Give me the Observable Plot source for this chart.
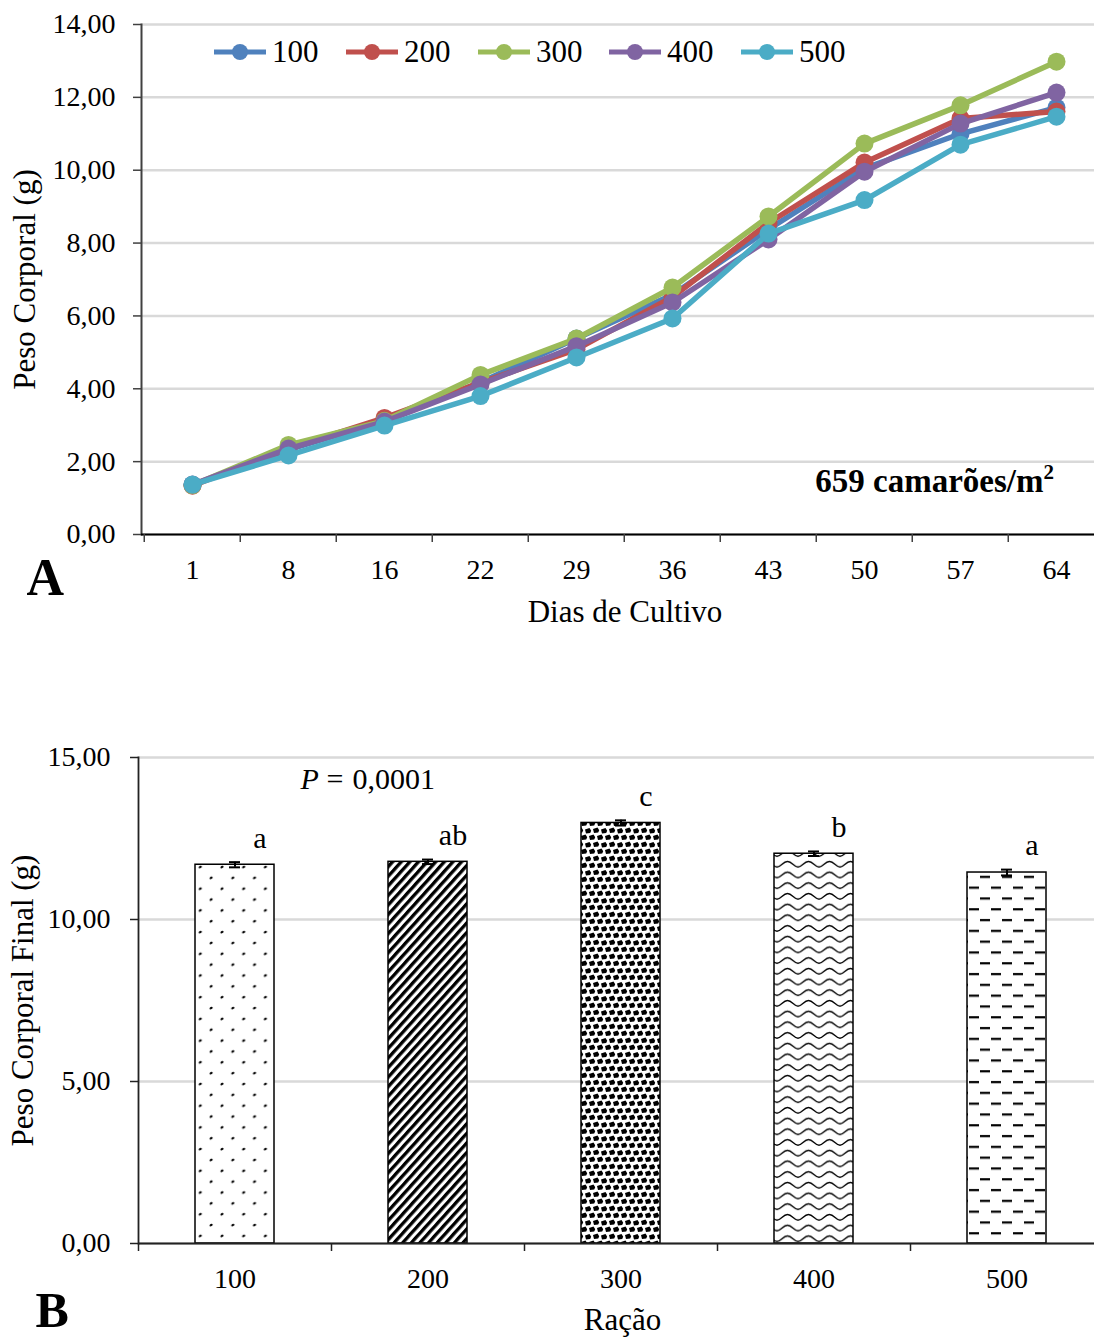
<!DOCTYPE html>
<html><head><meta charset="utf-8">
<script src="https://cdn.jsdelivr.net/npm/d3@7"></script>
<script src="https://cdn.jsdelivr.net/npm/@observablehq/plot@0.6"></script>
<style>
body{margin:0;background:#fff;}
#wrap{position:relative;width:1094px;height:1337px;overflow:hidden;font-family:"Liberation Serif","Times New Roman",serif;background:#fff;}
#wrap svg{display:block;}
.leg{position:absolute;top:34px;height:36px;display:flex;align-items:center;font-family:"Liberation Serif","Times New Roman",serif;font-size:31px;line-height:36px;color:#000;}
.leg svg{margin-right:6px;}
</style></head><body><div id="wrap"></div>
<script>
// ---------- DATA (Chart A) ----------
const days = ["1","8","16","22","29","36","43","50","57","64"];
const series = ["100","200","300","400","500"];
const colors = ["#4F81BD","#C0504D","#9BBB59","#8064A2","#4BACC6"];
const w100 = [1.36, 2.33, 3.12, 4.18, 5.38, 6.58, 8.38, 10.05, 11.00, 11.72];
const w200 = [1.34, 2.36, 3.20, 4.17, 5.08, 6.52, 8.55, 10.21, 11.42, 11.61];
const w300 = [1.35, 2.46, 3.12, 4.38, 5.38, 6.78, 8.73, 10.73, 11.78, 12.98];
const w400 = [1.37, 2.36, 3.10, 4.12, 5.17, 6.37, 8.10, 9.96, 11.28, 12.13];
const w500 = [1.37, 2.17, 2.99, 3.80, 4.86, 5.93, 8.26, 9.18, 10.70, 11.47];
const yTicksA = [0, 2, 4, 6, 8, 10, 12, 14];
// ---------- DATA (Chart B) ----------
const racao = ["100","200","300","400","500"];
const finalWeight = [11.69, 11.78, 12.98, 12.03, 11.45];
const finalErr = [0.08, 0.07, 0.08, 0.07, 0.09];
const letters = ["a","ab","c","b","a"];
const yTicksB = [0, 5, 10, 15];

const fmt = d => d.toFixed(2).replace(".", ",");
const FONT = '"Liberation Serif","Times New Roman",serif';
const wrap = document.getElementById("wrap");

// ---------- Chart A ----------
const weights = [w100, w200, w300, w400, w500];
const rowsA = series.flatMap((s, si) => days.map((d, di) => ({serie: s, day: d, value: weights[si][di]})));
const stepA = 96.5;
const chartA = Plot.plot({
  width: 1094, height: 645,
  marginLeft: 141, marginRight: 0, marginTop: 24, marginBottom: 111,
  style: {fontFamily: FONT, fontSize: "28px", color: "black", background: "white", overflow: "visible"},
  x: {type: "point", domain: days, range: [141, 141 + stepA * days.length], padding: 0.5},
  y: {domain: [0, 14]},
  marks: [
    Plot.gridY(yTicksA, {stroke: "#d9d9d9", strokeOpacity: 1, strokeWidth: 2.5}),
    Plot.axisY(yTicksA, {tickSize: 8, tickPadding: 18, tickFormat: fmt, stroke: "#404040", strokeWidth: 1.5, label: null, fontSize: 28}),
    Plot.frame({anchor: "left", stroke: "#404040", strokeWidth: 2}),
    Plot.ruleY([0], {stroke: "black", strokeWidth: 2}),
    Plot.axisX({tickSize: 0, tickPadding: 25, label: null, fontSize: 28}),
    Plot.axisX({tickSize: 8, tickFormat: () => "", dx: -stepA / 2, label: null, stroke: "#404040", strokeWidth: 1.5}),
    ...series.flatMap((s, si) => {
      const d = rowsA.filter(r => r.serie === s);
      return [
        Plot.line(d, {x: "day", y: "value", stroke: colors[si], strokeWidth: 5.5}),
        Plot.dot(d, {x: "day", y: "value", r: 9, fill: colors[si], stroke: "none"})
      ];
    }),
    Plot.text(["Peso Corporal (g)"], {frameAnchor: "left", dx: -116, rotate: -90, textAnchor: "middle", lineAnchor: "middle", fontSize: 31}),
    Plot.text(["Dias de Cultivo"], {frameAnchor: "bottom", dx: 7, dy: 78, textAnchor: "middle", lineAnchor: "middle", fontSize: 31}),
    Plot.text(["A"], {frameAnchor: "bottom-left", dx: -115, dy: 44, textAnchor: "start", lineAnchor: "middle", fontSize: 52, fontWeight: "bold"}),
    Plot.text(["659 camarões/m"], {frameAnchor: "bottom-right", dx: -51, dy: -53, textAnchor: "end", lineAnchor: "middle", fontWeight: "bold", fontSize: 33}),
    Plot.text(["2"], {frameAnchor: "bottom-right", dx: -51, dy: -62, textAnchor: "start", lineAnchor: "middle", fontWeight: "bold", fontSize: 21})
  ]
});
const boxA = document.createElement("div");
boxA.style.position = "relative";
boxA.appendChild(chartA);
wrap.appendChild(boxA);

// legend (HTML)
const legLeft = [214, 346, 478, 609, 741];
series.forEach((s, i) => {
  const div = document.createElement("div");
  div.className = "leg";
  div.style.left = legLeft[i] + "px";
  div.innerHTML = `<svg width="52" height="20"><line x1="0" y1="10" x2="52" y2="10" stroke="${colors[i]}" stroke-width="5"/><circle cx="26" cy="10" r="8" fill="${colors[i]}"/></svg><span>${s}</span>`;
  boxA.appendChild(div);
});

// ---------- Chart B ----------
const rowsB = racao.map((r, i) => ({racao: r, value: finalWeight[i], err: finalErr[i], letter: letters[i], pat: `url(#pat${i})`}));
const stepB = 193;
const chartB = Plot.plot({
  width: 1094, height: 692,
  marginLeft: 138, marginRight: 0, marginTop: 112, marginBottom: 94,
  style: {fontFamily: FONT, fontSize: "28px", color: "black", background: "white", overflow: "visible"},
  x: {type: "band", domain: racao, range: [138, 138 + stepB * racao.length], paddingInner: 0.59, paddingOuter: 0.295, align: 0.5},
  y: {domain: [0, 15]},
  marks: [
    Plot.gridY(yTicksB, {stroke: "#d9d9d9", strokeOpacity: 1, strokeWidth: 2.5}),
    Plot.axisY(yTicksB, {tickSize: 8, tickPadding: 20, tickFormat: fmt, stroke: "#222", strokeWidth: 1.5, label: null, fontSize: 28}),
    Plot.frame({anchor: "left", stroke: "#222", strokeWidth: 1.8}),
    ...rowsB.map(r => Plot.barY([r], {x: "racao", y: "value", fill: r.pat, stroke: "black", strokeWidth: 1.5})),
    Plot.ruleX(rowsB, {x: "racao", y1: d => d.value - d.err, y2: d => d.value + d.err, stroke: "black", strokeWidth: 2}),
    Plot.tickY(rowsB, {x: "racao", y: d => d.value + d.err, insetLeft: 34, insetRight: 34, stroke: "black", strokeWidth: 2}),
    Plot.tickY(rowsB, {x: "racao", y: d => d.value - d.err, insetLeft: 34, insetRight: 34, stroke: "black", strokeWidth: 2}),
    Plot.ruleY([0], {stroke: "#222", strokeWidth: 2}),
    Plot.axisX({tickSize: 0, tickPadding: 25, label: null, fontSize: 28}),
    Plot.axisX({tickSize: 8, tickFormat: () => "", dx: -stepB / 2, label: null, stroke: "#222", strokeWidth: 1.5}),
    Plot.text(rowsB, {x: "racao", y: d => d.value + d.err, text: "letter", dx: 25, dy: -24, fontSize: 30}),
    Plot.text(["P"], {frameAnchor: "top-left", dx: 162, dy: 22, textAnchor: "start", lineAnchor: "middle", fontStyle: "italic", fontSize: 30}),
    Plot.text(["="], {frameAnchor: "top-left", dx: 188, dy: 22, textAnchor: "start", lineAnchor: "middle", fontSize: 30}),
    Plot.text(["0,0001"], {frameAnchor: "top-left", dx: 214, dy: 22, textAnchor: "start", lineAnchor: "middle", fontSize: 30}),
    Plot.text(["Peso Corporal Final (g)"], {frameAnchor: "left", dx: -115, rotate: -90, textAnchor: "middle", lineAnchor: "middle", fontSize: 31}),
    Plot.text(["Ração"], {frameAnchor: "bottom", dx: 6, dy: 77, textAnchor: "middle", lineAnchor: "middle", fontSize: 31}),
    Plot.text(["B"], {frameAnchor: "bottom-left", dx: -103, dy: 67, textAnchor: "start", lineAnchor: "middle", fontSize: 50, fontWeight: "bold"})
  ]
});
const blob = "M0,1.5 L4.5,0 L6.2,2.8 L5.2,5 L1,5.6 Z";
d3.select(chartB).insert("defs", ":first-child").html(`
  <pattern id="pat0" width="21.7" height="21.7" patternUnits="userSpaceOnUse">
    <rect width="21.7" height="21.7" fill="white"/>
    <ellipse cx="5" cy="5" rx="1.7" ry="1.1" transform="rotate(-30 5 5)" fill="black"/>
    <ellipse cx="15.85" cy="15.85" rx="1.7" ry="1.1" transform="rotate(-30 15.85 15.85)" fill="black"/>
  </pattern>
  <pattern id="pat1" width="6.4" height="6.4" patternUnits="userSpaceOnUse" patternTransform="rotate(42)">
    <rect width="6.4" height="6.4" fill="white"/>
    <rect width="3.3" height="6.4" fill="black"/>
  </pattern>
  <pattern id="pat2" width="16" height="14" patternUnits="userSpaceOnUse">
    <rect width="16" height="14" fill="white"/>
    <path d="${blob}" transform="translate(1,0.5)" fill="black"/>
    <path d="${blob}" transform="translate(9,1)" fill="black"/>
    <path d="${blob}" transform="translate(5,7.5)" fill="black"/>
    <path d="${blob}" transform="translate(13,7.5)" fill="black"/>
    <path d="${blob}" transform="translate(-3,7.5)" fill="black"/>
  </pattern>
  <pattern id="pat3" width="21" height="10.7" patternUnits="userSpaceOnUse">
    <rect width="21" height="10.7" fill="white"/>
    <path d="M0,8 C4,8 6,2.5 10.5,2.5 C15,2.5 17,8 21,8" fill="none" stroke="black" stroke-width="1.4"/>
  </pattern>
  <pattern id="pat4" width="22" height="21.6" patternUnits="userSpaceOnUse">
    <rect width="22" height="21.6" fill="white"/>
    <rect x="1" y="4" width="10" height="2.2" fill="black"/>
    <rect x="12" y="14.8" width="10" height="2.2" fill="black"/>
  </pattern>
`);
wrap.appendChild(chartB);
</script>
</body></html>
